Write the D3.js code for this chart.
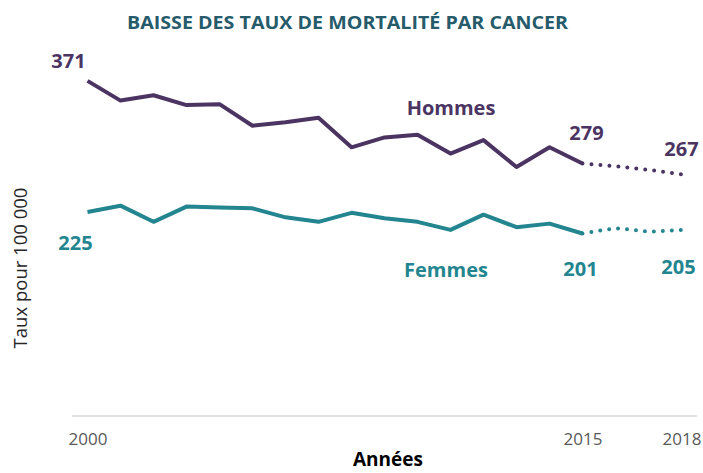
<!DOCTYPE html>
<html>
<head>
<meta charset="utf-8">
<script src="https://cdn.jsdelivr.net/npm/d3@7"></script>
<style>
	body { margin: 0; background: #fff; }
	text { font-family: "Open Sans", sans-serif; }
</style>
</head>
<body>
<div id="chart"></div>
<script>

// Data
var years = [2000, 2001, 2002, 2003, 2004, 2005, 2006, 2007, 2008, 2009,
	2010, 2011, 2012, 2013, 2014, 2015, 2016, 2017, 2018];
var hommes = [371, 349, 355, 344, 345, 321, 325, 330, 297, 308,
	311, 290, 305, 275, 297, 279, 276, 272, 267];
var femmes = [225, 232, 214, 231, 230, 229, 219, 214, 224, 218,
	214, 205, 222, 208, 212, 201, 207, 203, 205];
var lastObserved = 2015;
var tickYears = [2000, 2015, 2018];

var width = 703, height = 473;
var purple = '#4b3462', teal = '#22858f';

var svg = d3.select('#chart').append('svg')
	.attr('width', width)
	.attr('height', height);

var x = d3.scaleLinear().domain([2000, 2018]).range([87.5, 681.5]);
var y = d3.scaleLinear().domain([0, 400]).range([414, 54.8]);

// Title
svg.append('text')
	.attr('x', 347.5).attr('y', 29)
	.attr('text-anchor', 'middle')
	.attr('textLength', 441).attr('lengthAdjust', 'spacingAndGlyphs')
	.style('font-size', '18px').style('font-weight', 'bold')
	.attr('fill', '#255b6a')
	.text('BAISSE DES TAUX DE MORTALITÉ PAR CANCER');

// Baseline
svg.append('line')
	.attr('x1', 72).attr('x2', 697)
	.attr('y1', 416).attr('y2', 416)
	.attr('stroke', '#d9d9d9').attr('stroke-width', 1.5);

// X axis tick labels (no ticks)
var xAxis = d3.axisBottom(x)
	.tickValues(tickYears)
	.tickFormat(d3.format('d'))
	.tickSize(0).tickPadding(0);

var gx = svg.append('g')
	.attr('transform', 'translate(0,433)')
	.call(xAxis);
gx.select('.domain').remove();
gx.selectAll('text')
	.style('font-family', '"Open Sans", sans-serif')
	.style('font-size', '17px')
	.attr('fill', '#595959');

// Axis titles
svg.append('text')
	.attr('x', 388).attr('y', 466)
	.attr('text-anchor', 'middle')
	.style('font-size', '19px').style('font-weight', 'bold')
	.attr('fill', '#000')
	.text('Années');

svg.append('text')
	.attr('transform', 'translate(27,268) rotate(-90)')
	.attr('text-anchor', 'middle')
	.style('font-size', '18.5px')
	.attr('fill', '#262626')
	.text('Taux pour  100 000');

// Lines
var line = d3.line()
	.x((d) => x(d.year))
	.y((d) => y(d.value));

function drawSeries(values, color) {

	var pts = years.map((yr, i) => ({year: yr, value: values[i]}));
	var solid = pts.filter((d) => d.year <= lastObserved);
	var dotted = pts.filter((d) => d.year >= lastObserved);

	svg.append('path')
		.datum(solid)
		.attr('d', line)
		.attr('fill', 'none')
		.attr('stroke', color)
		.attr('stroke-width', 4)
		.attr('stroke-linejoin', 'round');

	svg.append('path')
		.datum(dotted)
		.attr('d', line)
		.attr('fill', 'none')
		.attr('stroke', color)
		.attr('stroke-width', 4)
		.attr('stroke-linecap', 'round')
		.attr('stroke-dasharray', '0,9')
		.attr('stroke-dashoffset', -9);
}

drawSeries(hommes, purple);
drawSeries(femmes, teal);

// Labels
function label(txt, px, py, color) {
	svg.append('text')
		.attr('x', px).attr('y', py)
		.attr('text-anchor', 'middle')
		.style('font-size', '20px').style('font-weight', 'bold')
		.attr('fill', color)
		.text(txt);
}

var i15 = years.indexOf(2015), i18 = years.indexOf(2018);

label(hommes[0], x(2000) - 19, y(hommes[0]) - 13, purple);
label(hommes[i15], x(2015) + 4, y(hommes[i15]) - 23, purple);
label(hommes[i18], x(2018) + 0, y(hommes[i18]) - 18, purple);
label('Hommes', 451, 115, purple);

label(femmes[0], x(2000) - 12, y(femmes[0]) + 38, teal);
label(femmes[i15], x(2015) - 2, y(femmes[i15]) + 42, teal);
label(femmes[i18], x(2018) - 3, y(femmes[i18]) + 44, teal);
label('Femmes', 446, 277, teal);

</script>
</body>
</html>
